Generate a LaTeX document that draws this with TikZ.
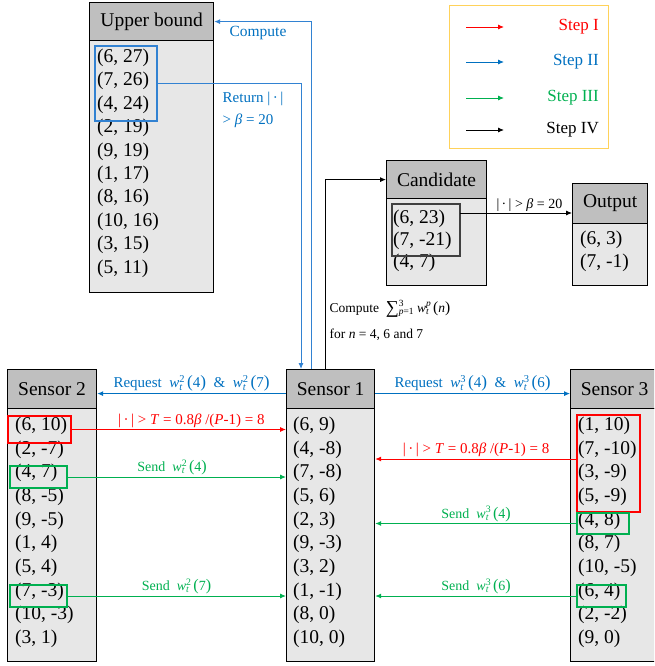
\documentclass[tikz,border=0pt]{standalone}
\usepackage{graphicx}
\usepackage{fontspec}
\setmainfont{Liberation Serif}
\usetikzlibrary{arrows.meta}
\definecolor{cred}{RGB}{255,0,0}
\definecolor{cblue}{RGB}{0,112,192}
\definecolor{cblueL}{RGB}{50,130,210}
\definecolor{cgreen}{RGB}{0,176,80}
\definecolor{hdrgray}{RGB}{191,191,191}
\definecolor{bodygray}{RGB}{231,231,231}
\definecolor{cgold}{RGB}{255,210,90}
% text-mode w_t^sup(arg)
\newcommand\wts[2]{\textit{w}\makebox[0.42em][l]{\makebox[0pt][l]{\textsuperscript{#1}}\textsubscript{\textit{t}}}\kern0.1em\scalebox{1.15}{(}#2\scalebox{1.15}{)}}
\newcommand\absdot{|\,·\,|}
\newcommand\mysum{\raisebox{-0.1em}{\scalebox{1.35}{∑}}\makebox[1.35em][l]{\makebox[0pt][l]{\textsuperscript{3}}\textsubscript{\textit{p}=1}}}
\begin{document}
\begin{tikzpicture}[x=1pt,y=-1pt,
  font=\fontsize{19.5}{23.5}\selectfont,
  hdr/.style={draw, fill=hdrgray, line width=1.2pt, inner sep=0pt, anchor=north west},
  bodybox/.style={draw, fill=bodygray, line width=1.2pt, inner sep=0pt, anchor=north west},
  row/.style={inner sep=0pt, anchor=west, text height=0.7em, text depth=0.2em},
  sel/.style={inner sep=0pt, outer sep=0pt, anchor=north west},
  selline/.style={draw=#1, line width=1.2pt},
  lbl/.style={font=\fontsize{15}{18}\selectfont, inner sep=1.5pt},
  slbl/.style={font=\fontsize{14}{17}\selectfont, inner sep=1.5pt},
  arr/.style={-{Latex[length=6pt,width=5pt]}, line width=0.9pt},
]
\useasboundingbox (0,0) rectangle (654,666);
\clip (0,0) rectangle (654,666);

% ---------- Upper bound ----------
\node[hdr, minimum width=124pt, minimum height=38pt] (ubh) at (89,2) {Upper bound};
\node[bodybox, minimum width=124pt, minimum height=252pt] (ubb) at (89,40) {};
\foreach \t [count=\i] in {{(6, 27)},{(7, 26)},{(4, 24)},{(2, 19)},{(9, 19)},{(1, 17)},{(8, 16)},{(10, 16)},{(3, 15)},{(5, 11)}}
  \node[row] (ub\i) at (97,{60+(\i-1)*23.4}) {\t};
\node[sel, minimum width=62pt, minimum height=75pt] (ubsel) at (95,46) {};
\draw[selline=cblueL] (ubsel.north west) rectangle (ubsel.south east);

% ---------- Candidate ----------
\node[hdr, minimum width=100pt, minimum height=38pt] (ch) at (386,160) {Candidate};
\node[bodybox, minimum width=100pt, minimum height=87pt] (cb) at (386,198) {};
\foreach \t [count=\i] in {{(6, 23)},{(7, -21)},{(4, 7)}}
  \node[row] (c\i) at (393,{221+(\i-1)*22}) {\t};
\node[sel, minimum width=68pt, minimum height=52pt] (candsel) at (392,204) {};
\draw[selline=black!75] (candsel.north west) rectangle (candsel.south east);

% ---------- Output ----------
\node[hdr, minimum width=75pt, minimum height=40pt] (oh) at (572,183) {Output};
\node[bodybox, minimum width=75pt, minimum height=62pt] (ob) at (572,223) {};
\foreach \t [count=\i] in {{(6, 3)},{(7, -1)}}
  \node[row] (o\i) at (580,{242+(\i-1)*23}) {\t};

% ---------- Sensors ----------
\node[hdr, minimum width=89pt, minimum height=39pt] (s2h) at (7,369) {Sensor 2};
\node[bodybox, minimum width=89pt, minimum height=253pt] (s2body) at (7,408) {};
\node[hdr, minimum width=88pt, minimum height=39pt] (s1h) at (286,369) {Sensor 1};
\node[bodybox, minimum width=88pt, minimum height=253pt] (s1body) at (286,408) {};
\node[hdr, minimum width=88pt, minimum height=39pt] (s3h) at (570,369) {Sensor 3};
\node[bodybox, minimum width=88pt, minimum height=253pt] (s3body) at (570,408) {};

\foreach \t [count=\i] in {{(6, 10)},{(2, -7)},{(4, 7)},{(8, -5)},{(9, -5)},{(1, 4)},{(5, 4)},{(7, -3)},{(10, -3)},{(3, 1)}}
  \node[row] (sa\i) at (15,{428+(\i-1)*23.67}) {\t};
\foreach \t [count=\i] in {{(6, 9)},{(4, -8)},{(7, -8)},{(5, 6)},{(2, 3)},{(9, -3)},{(3, 2)},{(1, -1)},{(8, 0)},{(10, 0)}}
  \node[row] (sb\i) at (293,{428+(\i-1)*23.67}) {\t};
\foreach \t [count=\i] in {{(1, 10)},{(7, -10)},{(3, -9)},{(5, -9)},{(4, 8)},{(8, 7)},{(10, -5)},{(6, 4)},{(2, -2)},{(9, 0)}}
  \node[row] (sc\i) at (578,{428+(\i-1)*23.67}) {\t};

\node[sel, minimum width=63pt, minimum height=27pt] (s2red) at (8,416) {};
\node[sel, minimum width=57pt, minimum height=22pt] (s2g4) at (10,466) {};
\node[sel, minimum width=57pt, minimum height=22pt] (s2g7) at (10,585) {};
\node[sel, minimum width=63pt, minimum height=97pt] (s3red) at (577,415) {};
\node[sel, minimum width=52pt, minimum height=21pt] (s3g4) at (577,513) {};
\node[sel, minimum width=49pt, minimum height=22pt] (s3g6) at (577,585) {};
\draw[selline=cred] (s2red.north west) rectangle (s2red.south east);
\draw[selline=cgreen] (s2g4.north west) rectangle (s2g4.south east);
\draw[selline=cgreen] (s2g7.north west) rectangle (s2g7.south east);
\draw[selline=cred] (s3red.north west) rectangle (s3red.south east);
\draw[selline=cgreen] (s3g4.north west) rectangle (s3g4.south east);
\draw[selline=cgreen] (s3g6.north west) rectangle (s3g6.south east);

% ---------- Connectors ----------
\draw[arr, cblueL] ([xshift=25pt]s1h.north west) |- (ubh.east);
\node[lbl, text=cblue, font=\fontsize{15.5}{18}\selectfont] (lcomp) at (258,33) {Compute};
\draw[arr, cblueL] (ubsel.east) -| ([xshift=15pt]s1h.north west);
\node[lbl, text=cblue, anchor=north west, align=left, font=\fontsize{15}{22}\selectfont] (lret) at (221,90) {Return \absdot\\> \textit{β} = 20};
\draw[arr] ([xshift=39pt]s1h.north west) |- (ch.west);
\node[slbl, anchor=west, font=\fontsize{13.5}{16}\selectfont] (lsum1) at (328,309) {Compute\ \ \mysum\wts{\textit{p}}{\textit{n}}};
\node[slbl, anchor=west, font=\fontsize{13.5}{16}\selectfont] (lsum2) at (328,335) {for \textit{n} = 4, 6 and 7};
\draw[arr] ([yshift=-9pt]candsel.north east) -- ([yshift=-9pt]candsel.north east -| oh.west)
  node[pos=0.62, above, slbl] {\absdot\ > \textit{β} = 20};

\draw[arr, cblue] ([yshift=-4.5pt]s1h.west) -- ([yshift=-4.5pt]s2h.east)
  node[midway, above, lbl] {Request\ \ \wts{2}{4}\ \ \&\ \ \wts{2}{7}};
\draw[arr, cblue] ([yshift=-4.5pt]s1h.east) -- ([yshift=-4.5pt]s3h.west)
  node[midway, above, lbl] {Request\ \ \wts{3}{4}\ \ \&\ \ \wts{3}{6}};

\draw[arr, cred] (s2red.east) -- (s2red.east -| s1body.west)
  node[pos=0.56, above, lbl] {\absdot\ > \textit{T} = 0.8\textit{β} /(\textit{P}-1) = 8};
\draw[arr, cgreen] (s2g4.east) -- (s2g4.east -| s1body.west)
  node[pos=0.48, above, slbl] {Send\ \ \wts{2}{4}};
\draw[arr, cgreen] (s2g7.east) -- (s2g7.east -| s1body.west)
  node[pos=0.5, above, slbl] {Send\ \ \wts{2}{7}};

\draw[arr, cred] ([yshift=4.5pt]s3red.west) -- ([yshift=4.5pt]s3red.west -| s1body.east)
  node[midway, above, lbl] {\absdot\ > \textit{T} = 0.8\textit{β} /(\textit{P}-1) = 8};
\draw[arr, cgreen] (s3g4.west) -- (s3g4.west -| s1body.east)
  node[midway, above, slbl] {Send\ \ \wts{3}{4}};
\draw[arr, cgreen] (s3g6.west) -- (s3g6.west -| s1body.east)
  node[midway, above, slbl] {Send\ \ \wts{3}{6}};

% ---------- Legend ----------
\node[draw=cgold, line width=1pt, inner sep=0pt, anchor=north west, minimum width=159pt, minimum height=143pt] (legend) at (449,5) {};
\foreach \c/\t/\y in {cred/Step I/27, cblue/Step II/62, cgreen/Step III/98, black/Step IV/130} {
  \coordinate (la\y) at (466,\y);
  \coordinate (lb\y) at (504,\y);
  \draw[arr, \c] (la\y) -- (lb\y);
  \node[anchor=east, text=\c, inner sep=0pt, font=\fontsize{17}{20}\selectfont] (lt\y) at (599,\y) {\t};
}
\end{tikzpicture}
\end{document}
